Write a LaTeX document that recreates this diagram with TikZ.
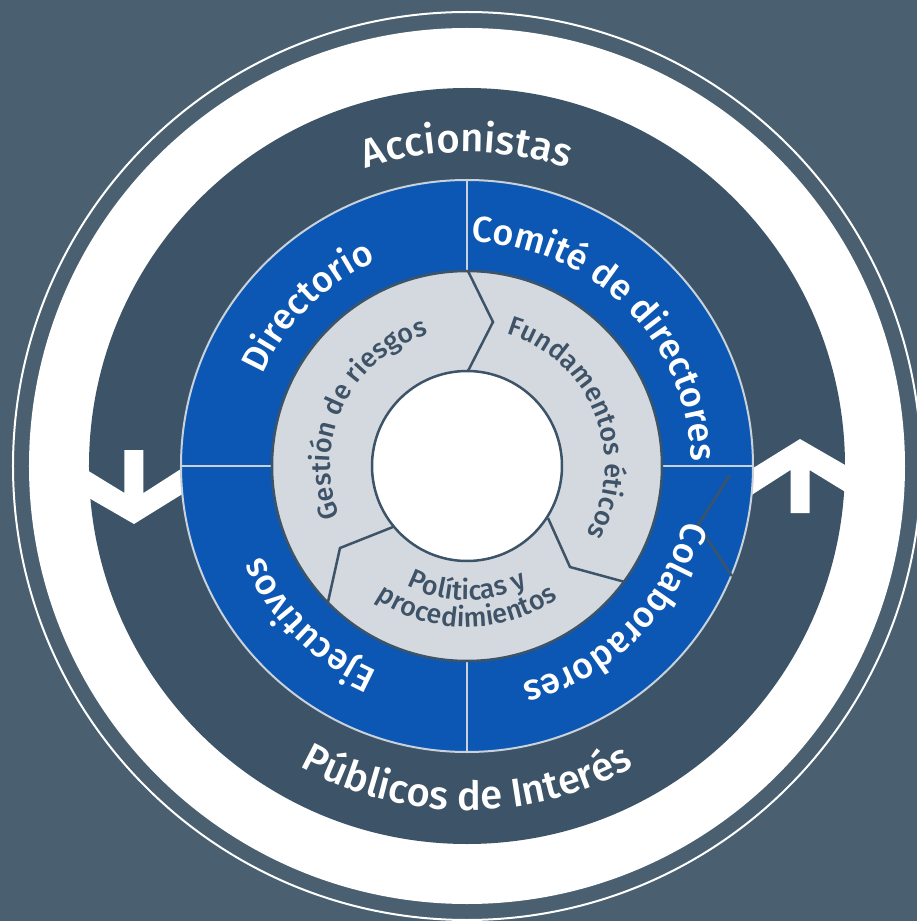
\documentclass[tikz,border=0pt]{standalone}
\usepackage{fontspec}
\setmainfont{Fira Sans}
\newfontfamily\medfont{Fira Sans Medium}
\usetikzlibrary{decorations.text}
\definecolor{slate}{HTML}{4A6070}
\definecolor{darkring}{HTML}{3D5468}
\definecolor{ringblue}{HTML}{0B57B3}
\definecolor{rimgray}{HTML}{C9D1DA}
\definecolor{softgray}{HTML}{D4D9E0}
\definecolor{labelgray}{HTML}{3E5367}
\newcommand{\bigsize}{\medfont\fontsize{40}{40}\selectfont}
\newcommand{\midsize}{\medfont\fontsize{36}{36}\selectfont}
\newcommand{\smallsize}{\medfont\fontsize{27}{27}\selectfont}

\begin{document}
\begin{tikzpicture}[x=1pt,y=1pt,
  whitetext/.style={decorate,decoration={text along path,text align=center,text color=white,text={#1}}},
  graytext/.style={decorate,decoration={text along path,text align=center,text color=labelgray,text={#1}}}]
\fill[slate] (-467,-455) rectangle (450,466);
\useasboundingbox (-467,-455) rectangle (450,466);
% outer rings
\draw[white, line width=2] (0,0) circle[radius=454];
\fill[white] (0,0) circle[radius=438];
\fill[darkring] (0,0) circle[radius=378];
% arrows
\fill[white, shift={(-333,0)}] (-52,-1) -- (-9.5,-27) -- (-9.5,16) -- (9.5,16) -- (9.5,-27) -- (50,-1) -- (50,-27) -- (0,-58) -- (-52,-28) -- cycle;
\fill[white, shift={(333,-31)}, yscale=-1] (-50,-1) -- (-9.5,-27) -- (-9.5,16) -- (9.5,16) -- (9.5,-27) -- (52,-1) -- (52,-28) -- (0,-58) -- (-50,-27) -- cycle;
% blue ring
\draw[rimgray, fill=ringblue, line width=2] (0,0) circle[radius=286];
\foreach \a in {0,90,180,270}
  \draw[rimgray, line width=2] (\a:195) -- (\a:286);
\draw[darkring, line width=2.5] (263,-9) -- (231,-59) -- (265,-110);
% gray ring
\fill[softgray] (0,0) circle[radius=195];
\draw[darkring, line width=2.5] (1,195) -- (26,144) -- (1,95);
\draw[darkring, line width=2.5] (81,-52) -- (103,-101) -- (158,-116);
\draw[darkring, line width=2.5] (-74,-61) -- (-127,-82) -- (-139,-136);
\draw[darkring, line width=2.5] (0,0) circle[radius=195];
\draw[darkring, fill=white, line width=2.5] (0,0) circle[radius=95];
% labels
\path[whitetext={|\bigsize|Accionistas}] (160:314) arc[start angle=160, end angle=20, radius=314];
\path[whitetext={|\bigsize|Públicos de Interés}] (200:344) arc[start angle=200, end angle=340, radius=344];
\path[whitetext={|\midsize|Directorio}] (200:224) arc[start angle=200, end angle=70, radius=224];
\path[whitetext={|\midsize|Comité de directores}] (110:224) arc[start angle=110, end angle=-20, radius=224];
\path[whitetext={|\midsize|Colaboradores}] (20:224) arc[start angle=20, end angle=-110, radius=224];
\path[whitetext={|\midsize|Ejecutivos}] (290:224) arc[start angle=290, end angle=160, radius=224];
\path[graytext={|\smallsize|Gestión de riesgos}] (224:137) arc[start angle=224, end angle=84, radius=137];
\path[graytext={|\smallsize|Fundamentos éticos}] (92:138) arc[start angle=92, end angle=-48, radius=138];
\path[graytext={|\smallsize|Políticas y}] (200:134) arc[start angle=200, end angle=340, radius=134];
\path[graytext={|\smallsize|procedimientos}] (200:161) arc[start angle=200, end angle=340, radius=161];
\end{tikzpicture}
\end{document}
